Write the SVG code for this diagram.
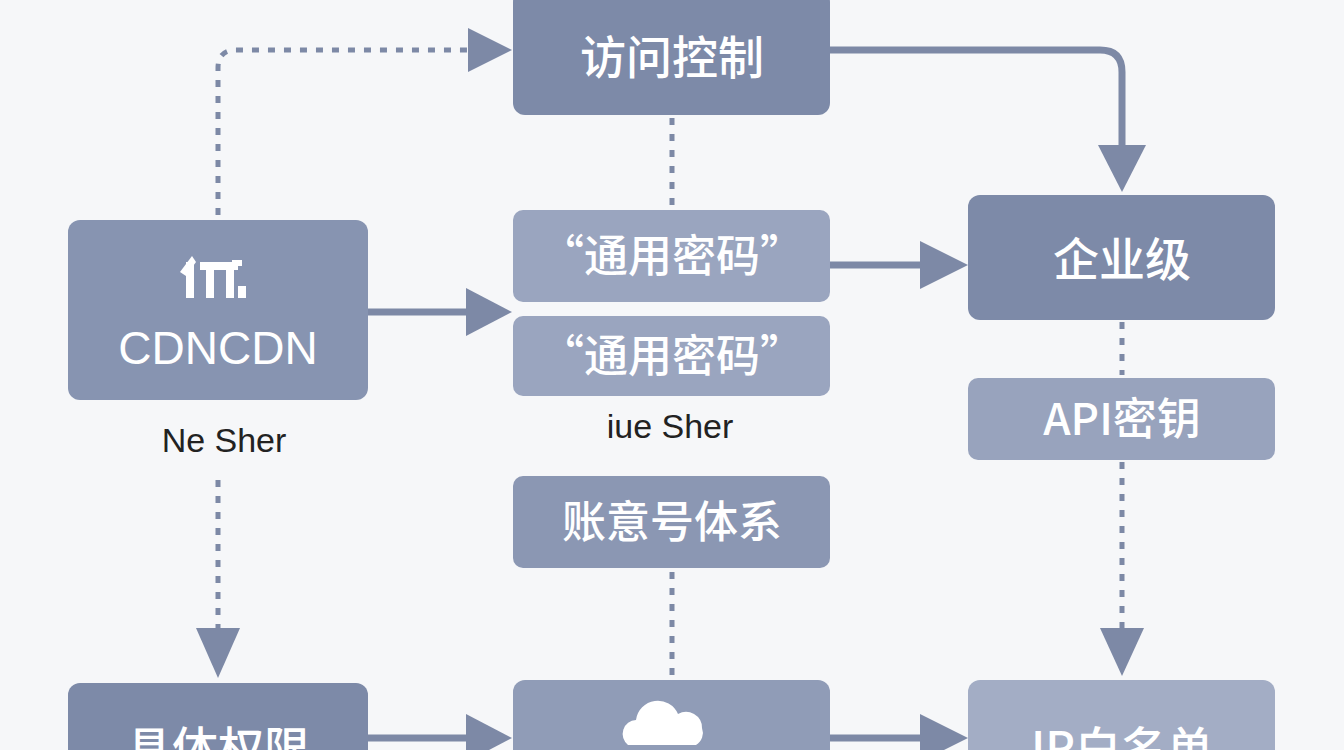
<svg xmlns="http://www.w3.org/2000/svg" width="1344" height="750" viewBox="0 0 1344 750">
<style>
.t{font-family:"Noto Sans CJK SC","Liberation Sans",sans-serif;fill:#fff;text-anchor:middle;font-weight:500}
.s{stroke:#7d89a6;stroke-width:7;fill:none}
.d{stroke:#7d89a6;stroke-width:5;fill:none;stroke-dasharray:7 9}
.lab{font-family:"Liberation Sans",sans-serif;font-size:34px;fill:#222;text-anchor:middle}
</style>
<defs><marker id="a" viewBox="0 0 10 10" refX="9" refY="5" markerWidth="6" markerHeight="6" markerUnits="userSpaceOnUse" orient="auto"><path d="M0,0L10,5L0,10z" fill="#7d89a6"/></marker></defs>
<rect width="1344" height="750" fill="#f6f7f9"/>
<g id="connectors">
<path class="d" d="M218,215V68Q218,50 236,50H470"/><path d="M468,28L512,50L468,72z" fill="#7d89a6"/>
<path class="s" d="M830,50H1100Q1122,50 1122,72V150"/><path d="M1098,145L1122,192L1146,145z" fill="#7d89a6"/>
<path class="d" d="M672,118V208"/>
<path class="s" d="M368,312H470"/><path d="M466,288L512,312L466,336z" fill="#7d89a6"/>
<path class="s" d="M830,265H925"/><path d="M920,241L968,265L920,289z" fill="#7d89a6"/>
<path class="d" d="M1122,322V375M1122,462V630"/><path d="M1100,628L1122,676L1144,628z" fill="#7d89a6"/>
<path class="d" d="M218,480V630"/><path d="M196,628L218,678L240,628z" fill="#7d89a6"/>
<path class="d" d="M672,572V678"/>
<path class="s" d="M368,738H470"/><path d="M466,714L512,738L466,762z" fill="#7d89a6"/>
<path class="s" d="M830,738H925"/><path d="M920,714L968,738L920,762z" fill="#7d89a6"/>
</g>
<g id="n1"><rect x="513" y="-10" width="317" height="125" rx="12" fill="#7d8aa8"/><text class="t" x="672" y="74" font-size="46">访问控制</text></g>
<g id="n2"><rect x="68" y="220" width="300" height="180" rx="12" fill="#8794b1"/>
<g fill="#fff"><rect x="186" y="262" width="8" height="36"/><path d="M180,272L192,256L196,262L186,276z"/><rect x="200" y="262" width="38" height="8"/><rect x="206" y="270" width="8" height="28"/><rect x="226" y="270" width="8" height="28"/><rect x="232" y="260" width="10" height="6"/><rect x="238" y="286" width="8" height="12"/></g>
<text class="t" x="218" y="364" font-size="46" style="font-family:'Liberation Sans',sans-serif;font-weight:400">CDNCDN</text></g>
<text class="lab" x="224" y="452">Ne Sher</text>
<g id="n3"><rect x="513" y="210" width="317" height="92" rx="10" fill="#9aa5bf"/><text class="t" x="672" y="272" font-size="44">“通用密码”</text></g>
<g id="n4"><rect x="513" y="316" width="317" height="80" rx="10" fill="#9aa5bf"/><text class="t" x="672" y="372" font-size="44">“通用密码”</text></g>
<text class="lab" x="670" y="438">iue Sher</text>
<g id="n5"><rect x="968" y="195" width="307" height="125" rx="12" fill="#7d8aa8"/><text class="t" x="1122" y="276" font-size="46">企业级</text></g>
<g id="n6"><rect x="968" y="378" width="307" height="82" rx="10" fill="#98a3bd"/><text class="t" x="1122" y="435" font-size="44">API密钥</text></g>
<g id="n7"><rect x="513" y="476" width="317" height="92" rx="10" fill="#8b97b3"/><text class="t" x="672" y="538" font-size="44">账意号体系</text></g>
<g id="n8"><rect x="68" y="683" width="300" height="90" rx="12" fill="#7d8aa8"/><text class="t" x="218" y="765" font-size="46">具体权限</text></g>
<g id="n9"><rect x="513" y="680" width="317" height="90" rx="12" fill="#909cb7"/><path d="M628,745a14,14 0 0 1 8,-25a22,22 0 0 1 42,-6a16,16 0 0 1 24,14a14,14 0 0 1 -6,17z" fill="#fff"/></g>
<g id="n10"><rect x="968" y="680" width="307" height="90" rx="12" fill="#a3adc5"/><text class="t" x="1122" y="765" font-size="46">IP白名单</text></g>
</svg>
